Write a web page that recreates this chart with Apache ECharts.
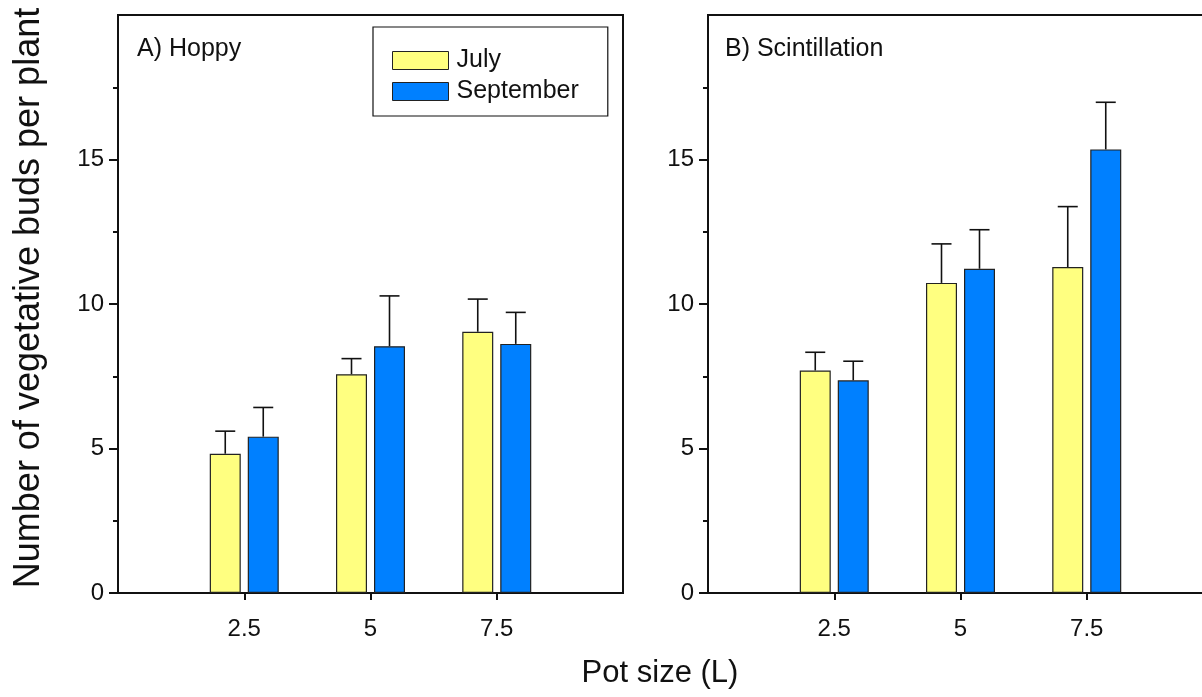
<!DOCTYPE html>
<html><head><meta charset="utf-8">
<script src="https://cdn.jsdelivr.net/npm/echarts@6/dist/echarts.min.js"></script>
<style>html,body{margin:0;padding:0;background:#fff}#c{width:1202px;height:697px}</style>
</head><body><div id="c"></div>
<script>
var potSizes = [2.5, 5, 7.5];
var xTickLabels = [2.5, 5, 7.5];
var yTickLabels = [0, 5, 10, 15];
var seriesNames = ['July', 'September'];
var panelTitles = ['A) Hoppy', 'B) Scintillation'];
var hoppyJuly = [4.82, 7.57, 9.04];
var hoppyJulyErr = [0.78, 0.54, 1.13];
var hoppySep = [5.41, 8.54, 8.62];
var hoppySepErr = [1.01, 1.74, 1.09];
var scintJuly = [7.70, 10.73, 11.28];
var scintJulyErr = [0.63, 1.35, 2.09];
var scintSep = [7.36, 11.22, 15.35];
var scintSepErr = [0.66, 1.35, 1.63];

var FONT = 'Liberation Sans, Arial, sans-serif';
var COLORS = ['#FFFF80', '#0080FF'];
var BAR_W = 31, BAR_GAP = 7;

function pairs(xs, ys) { return xs.map(function (x, i) { return [x, ys[i]]; }); }
function triples(xs, ys, es) { return xs.map(function (x, i) { return [x, ys[i], es[i]]; }); }

function errRender(dx) {
  return function (params, api) {
    var x = api.value(0), y = api.value(1), e = api.value(2);
    var p0 = api.coord([x, y]);
    var p1 = api.coord([x, y + e]);
    var cx = p0[0] + dx;
    var st = { stroke: '#111', lineWidth: 1.6 };
    return { type: 'group', children: [
      { type: 'line', shape: { x1: cx, y1: p0[1], x2: cx, y2: p1[1] }, style: st },
      { type: 'line', shape: { x1: cx - 10, y1: p1[1], x2: cx + 10, y2: p1[1] }, style: st }
    ]};
  };
}

var grids = [
  { left: 118, top: 15, width: 505, height: 578, show: true, borderColor: '#111', borderWidth: 2, outerBoundsMode: 'none', containLabel: false },
  { left: 708, top: 15, width: 505, height: 578, show: true, borderColor: '#111', borderWidth: 2, outerBoundsMode: 'none', containLabel: false }
];

function xAx(gi) {
  return { type: 'value', gridIndex: gi, min: 0, max: 10,
    axisLine: { show: true, onZero: false, lineStyle: { color: '#111', width: 2 } },
    axisTick: { show: true, customValues: xTickLabels, length: 7, lineStyle: { color: '#111', width: 2 } },
    axisLabel: { show: true, customValues: xTickLabels, margin: 24, fontSize: 24, color: '#111', fontFamily: FONT },
    splitLine: { show: false } };
}
function yAx(gi) {
  return { type: 'value', gridIndex: gi, min: 0, max: 20, interval: 5,
    axisLine: { show: true, lineStyle: { color: '#111', width: 2 } },
    axisTick: { show: true, customValues: yTickLabels, length: 9, lineStyle: { color: '#111', width: 2 } },
    minorTick: { show: true, splitNumber: 2, length: 5, lineStyle: { color: '#111', width: 2 } },
    axisLabel: { show: true, customValues: yTickLabels, margin: 14, fontSize: 24, color: '#111', fontFamily: FONT },
    splitLine: { show: false }, minorSplitLine: { show: false } };
}

var panels = [
  [hoppyJuly, hoppyJulyErr, hoppySep, hoppySepErr],
  [scintJuly, scintJulyErr, scintSep, scintSepErr]
];
var series = [];
panels.forEach(function (p, gi) {
  series.push({ name: seriesNames[0], type: 'bar', xAxisIndex: gi, yAxisIndex: gi,
    barWidth: BAR_W, barGap: (BAR_GAP / BAR_W * 100) + '%',
    itemStyle: { color: COLORS[0], borderColor: '#222', borderWidth: 1.2 },
    data: pairs(potSizes, p[0]) });
  series.push({ name: seriesNames[1], type: 'bar', xAxisIndex: gi, yAxisIndex: gi,
    barWidth: BAR_W, barGap: (BAR_GAP / BAR_W * 100) + '%',
    itemStyle: { color: COLORS[1], borderColor: '#222', borderWidth: 1.2 },
    data: pairs(potSizes, p[2]) });
  var dx = BAR_W / 2 + BAR_GAP / 2;
  series.push({ type: 'custom', xAxisIndex: gi, yAxisIndex: gi, z: 5,
    renderItem: errRender(-dx), data: triples(potSizes, p[0], p[1]) });
  series.push({ type: 'custom', xAxisIndex: gi, yAxisIndex: gi, z: 5,
    renderItem: errRender(dx), data: triples(potSizes, p[2], p[3]) });
});

var chart = echarts.init(document.getElementById('c'), null, { renderer: 'canvas' });
chart.setOption({
  animation: false,
  backgroundColor: '#fff',
  textStyle: { fontFamily: FONT },
  grid: grids,
  xAxis: [xAx(0), xAx(1)],
  yAxis: [yAx(0), yAx(1)],
  legend: {
    data: seriesNames, left: 373, top: 27, orient: 'vertical',
    padding: [21, 29, 12, 19], itemGap: 6, itemWidth: 56, itemHeight: 18,
    borderColor: '#111', borderWidth: 1.2, icon: 'rect',
    itemStyle: { borderColor: '#222', borderWidth: 1 },
    textStyle: { fontSize: 25, lineHeight: 25, color: '#111', fontFamily: FONT, padding: [0, 0, 0, 3] },
    selectedMode: false
  },
  graphic: [
    { type: 'text', left: 137, top: 37, style: { text: panelTitles[0], fontSize: 25, fill: '#111', fontFamily: FONT } },
    { type: 'text', left: 725, top: 37, style: { text: panelTitles[1], fontSize: 25, fill: '#111', fontFamily: FONT } },
    { type: 'text', x: 29, y: 298, rotation: Math.PI / 2,
      style: { text: 'Number of vegetative buds per plant', fontSize: 36, fill: '#111', fontFamily: FONT, align: 'center', verticalAlign: 'middle' } },
    { type: 'text', x: 660, y: 673,
      style: { text: 'Pot size (L)', fontSize: 31, fill: '#111', fontFamily: FONT, align: 'center', verticalAlign: 'middle' } }
  ],
  series: series
});
</script></body></html>
